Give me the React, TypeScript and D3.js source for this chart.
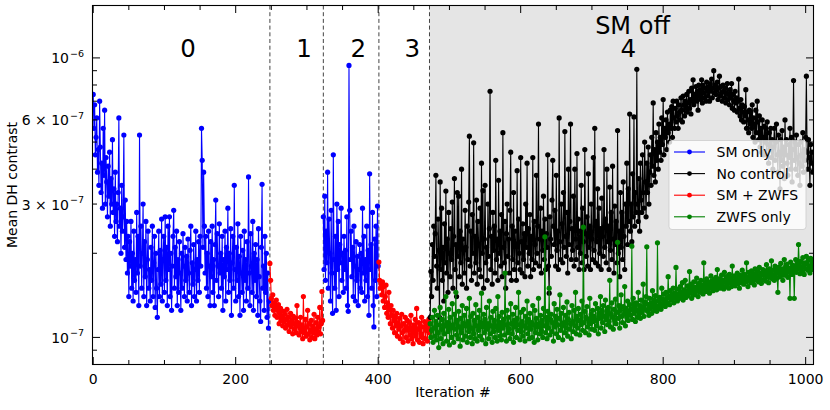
import React from 'react';
import * as d3 from 'd3';

// ---------- DATA (contrast values in units of 1e-9) ----------
const smOnlyAStart = 0;
const smOnlyA = [
  740, 560, 680, 450, 520, 610, 390, 470, 350, 700,
  480, 330, 420, 290, 560, 380, 650, 300, 440, 360,
  270, 410, 320, 460, 250, 370, 300, 510, 280, 340,
  230, 390, 260, 300, 220, 330, 610, 250, 290, 200,
  350, 240, 270, 530, 210, 310, 190, 260, 170, 230,
  140, 220, 180, 260, 150, 200, 135, 240, 160, 190,
  145, 280, 170, 230, 130, 530, 180, 250, 150, 200,
  300, 140, 220, 165, 260, 130, 190, 240, 150, 175,
  135, 210, 160, 250, 140, 185, 230, 128, 200, 150,
  118, 175, 240, 140, 205, 155, 265, 135, 190, 230,
  145, 270, 160, 210, 130, 250, 175, 270, 140, 200,
  125, 180, 230, 285, 150, 210, 165, 240, 130, 190,
  145, 220, 170, 125, 200, 150, 235, 180, 140, 210,
  160, 195, 135, 225, 170, 145, 205, 250, 130, 185,
  155, 215, 140, 175, 240, 135, 190, 160, 220, 145,
  230, 180, 560, 430, 210, 390, 250, 170, 230, 150,
  200, 140, 240, 180, 130, 220, 165, 250, 145, 190,
  130, 215, 310, 160, 235, 180, 140, 255, 170, 200,
  150, 230, 125, 190, 165, 240, 135, 210, 175, 290,
  145, 200, 160, 245, 120, 185, 230, 150, 350, 175,
  135, 210, 160, 255, 140, 195, 120, 230, 170, 145,
  205, 125, 240, 160, 190, 135, 220, 150, 375, 170,
  130, 235, 180, 145, 260, 125, 200, 160, 215, 140,
  190, 120, 245, 165, 135, 114, 210, 353, 150, 180,
  125, 230, 145, 200, 118, 170, 108, 135,
];

const smZwfsAStart = 248;
const smZwfsA = [
  184, 160, 138, 130, 142, 125, 133, 120, 128, 136,
  118, 125, 131, 112, 122, 127, 115, 119, 110, 124,
  114, 121, 108, 116, 126, 111, 118, 105, 113, 122,
  109, 115, 103, 119, 112, 107, 117, 104, 130, 110,
  113, 102, 108, 118, 105, 111, 99, 140, 107, 104,
  116, 101, 109, 125, 103, 112, 98, 106, 115, 100,
  110, 104, 121, 99, 107, 113, 102, 118, 105, 109,
  128, 103, 112, 146, 115,
];

const smOnlyBStart = 323;
const smOnlyB = [
  270, 175, 320, 160, 240, 185, 390, 150, 265, 200,
  135, 285, 170, 122, 450, 190, 150, 230, 125, 300,
  175, 260, 140, 215, 185, 290, 160, 200, 145, 230,
  175, 205, 150, 270, 130, 124, 940, 285, 190, 240,
  165, 210, 140, 250, 180, 135, 220, 160, 195, 130,
  175, 215, 150, 200, 145, 290, 170, 230, 135, 190,
  160, 250, 140, 205, 120, 385, 175, 215, 150, 280,
  130, 109, 225, 160, 250, 140, 295, 180,
];

const smZwfsBStart = 401;
const smZwfsB = [
  186, 160, 150, 155, 142, 158, 135, 152, 128, 140,
  154, 122, 133, 118, 145, 126, 112, 130, 120, 108,
  125, 115, 104, 119, 110, 122, 101, 113, 107, 117,
  99, 110, 121, 104, 96, 112, 106, 118, 100, 109,
  115, 97, 106, 113, 102, 120, 99, 108, 95, 111,
  104, 116, 101, 127, 98, 107, 113, 96, 110, 103,
  118, 100, 95, 109, 114, 99, 106, 112, 97, 108,
  116, 104,
];

const noControlStart = 473;
const noControl = [
  118, 172, 140, 215, 160, 250, 195, 235, 380, 180,
  150, 265, 205, 118, 360, 175, 290, 160, 210, 135,
  255, 185, 334, 170, 225, 145, 280, 200, 165, 245,
  190, 305, 150, 230, 370, 175, 215, 140, 330, 195,
  320, 165, 240, 185, 400, 155, 225, 205, 170, 285,
  210, 150, 250, 190, 305, 525, 180, 240, 160, 275,
  200, 497, 170, 230, 185, 310, 155, 260, 215, 175,
  290, 165, 420, 200, 335, 150, 225, 350, 185, 210,
  160, 300, 195, 245, 760, 175, 230, 155, 280, 205,
  250, 170, 430, 190, 225, 160, 365, 200, 240, 180,
  275, 165, 540, 210, 185, 260, 150, 235, 300, 195,
  225, 170, 285, 460, 160, 250, 190, 330, 175, 240,
  215, 160, 395, 185, 265, 200, 175, 440, 220, 170,
  255, 190, 235, 165, 300, 210, 420, 180, 245, 200,
  275, 165, 230, 190, 440, 175, 260, 215, 185, 380,
  200, 250, 580, 180, 225, 290, 170, 240, 205, 320,
  190, 265, 175, 235, 210, 450, 180, 144, 270, 225,
  195, 310, 430, 250, 215, 285, 180, 380, 205, 240,
  175, 610, 220, 190, 300, 255, 185, 330, 210, 545,
  230, 195, 280, 170, 400, 215, 260, 580, 190, 245,
  205, 320, 180, 400, 225, 190, 455, 210, 265, 175,
  240, 200, 350, 185, 290, 220, 175, 470, 235, 195,
  270, 180, 385, 210, 250, 175, 300, 225, 190, 440,
  205, 560, 185, 260, 220, 340, 180, 290, 200, 245,
  175, 315, 230, 195, 470, 210, 265, 185, 400, 220,
  250, 175, 345, 205, 280, 190, 410, 225, 170, 295,
  215, 260, 185, 550, 200, 240, 165, 330, 210, 280,
  190, 360, 230, 175, 300, 250, 420, 215, 340, 260,
  630, 240, 300, 220, 385, 270, 615, 250, 330, 280,
  910, 300, 260, 370, 240, 420, 310, 280, 450, 330,
  290, 500, 360, 270, 420, 330, 480, 300, 390, 450,
  350, 520, 410, 690, 380, 470, 360, 540, 430, 500,
  400, 580, 460, 520, 430, 610, 490, 710, 450, 560,
  520, 600, 470, 640, 540, 580, 500, 650, 560, 670,
  520, 700, 610, 560, 660, 590, 700, 620, 560, 680,
  640, 600, 720, 650, 590, 730, 680, 620, 700, 660,
  740, 640, 690, 760, 660, 710, 630, 780, 700, 835,
  680, 740, 720, 790, 700, 760, 650, 800, 730, 770,
  710, 835, 690, 800, 750, 720, 780, 700, 820, 760,
  730, 790, 700, 810, 760, 840, 720, 780, 900, 750,
  800, 740, 770, 820, 710, 780, 860, 730, 790, 750,
  700, 800, 760, 720, 780, 690, 750, 810, 710, 740,
  680, 770, 720, 810, 660, 740, 700, 650, 760, 690,
  720, 640, 700, 840, 660, 620, 710, 600, 680, 640,
  590, 670, 620, 770, 560, 640, 600, 540, 650, 580,
  640, 560, 680, 520, 610, 580, 500, 650, 540, 700,
  590, 510, 620, 480, 560, 460, 600, 520, 450, 570,
  500, 560, 450, 590, 490, 420, 540, 470, 560, 440,
  510, 400, 480, 560, 430, 500, 580, 450, 390, 530,
  460, 340, 510, 430, 550, 410, 480, 370, 600, 450,
  510, 420, 380, 490, 440, 560, 400, 520, 360, 470,
  830, 430, 500, 400, 530, 440, 380, 490, 420, 350,
  500, 450, 410, 540, 390, 470, 430, 520, 860, 460,
  400, 510, 440, 350, 490, 420, 460, 390,
];

const zwfsOnlyStart = 473;
const zwfsOnly = [
  112, 100, 106, 118, 96, 108, 125, 101, 114, 98,
  120, 104, 92, 111, 128, 99, 107, 116, 95, 122,
  103, 110, 140, 97, 113, 105, 126, 94, 118, 108,
  100, 132, 111, 96, 121, 107, 145, 102, 115, 99,
  124, 109, 93, 117, 104, 130, 98, 112, 120, 101,
  110, 127, 96, 114, 105, 138, 100, 119, 108, 95,
  122, 103, 115, 99, 131, 110, 97, 118, 106, 125,
  101, 113, 144, 98, 109, 121, 104, 116, 95, 128,
  107, 112, 99, 135, 103, 118, 110, 96, 124, 105,
  115, 100, 127, 109, 97, 140, 106, 119, 101, 113,
  98, 123, 108, 116, 102, 170, 111, 97, 125, 104,
  118, 107, 99, 132, 112, 103, 121, 96, 115, 109,
  128, 100, 117, 106, 145, 111, 98, 123, 105, 114,
  101, 126, 110, 97, 119, 108, 135, 103, 116, 99,
  122, 107, 113, 100, 130, 111, 96, 125, 104, 117,
  109, 98, 138, 112, 103, 120, 106, 115, 100, 127,
  110, 229, 104, 118, 99, 124, 108, 150, 102, 116,
  121, 105, 113, 97, 132, 109, 119, 103, 126, 111,
  100, 117, 142, 106, 122, 110, 98, 128, 113, 104,
  120, 108, 134, 101, 116, 123, 107, 112, 99, 130,
  114, 105, 125, 110, 145, 103, 119, 108, 127, 115,
  102, 121, 111, 135, 106, 248, 113, 124, 104, 118,
  129, 109, 116, 102, 138, 112, 121, 107, 125, 114,
  119, 106, 132, 115, 110, 127, 103, 122, 117, 140,
  108, 125, 113, 130, 119, 105, 136, 116, 124, 111,
  128, 114, 160, 109, 121, 133, 118, 107, 126, 115,
  137, 112, 123, 219, 117, 130, 108, 125, 142, 119,
  113, 129, 121, 152, 110, 127, 118, 135, 115, 124,
  131, 120, 126, 212, 116, 138, 122, 129, 114, 133,
  125, 118, 145, 121, 130, 117, 136, 123, 128, 155,
  119, 134, 126, 140, 211, 124, 131, 120, 138, 127,
  133, 122, 147, 129, 136, 125, 141, 130, 124, 218,
  135, 128, 139, 132, 126, 150, 137, 130, 143, 134,
  129, 145, 138, 133, 165, 140, 131, 147, 136, 142,
  137, 150, 133, 144, 139, 178, 141, 135, 149, 143,
  138, 152, 145, 140, 157, 136, 148, 143, 160, 139,
  146, 153, 141, 149, 172, 144, 155, 138, 150, 147,
  158, 142, 151, 146, 163, 149, 140, 156, 152, 145,
  160, 148, 154, 143, 185, 151, 157, 146, 162, 153,
  149, 158, 144, 155, 166, 150, 159, 147, 161, 156,
  152, 164, 148, 175, 157, 153, 162, 150, 158, 167,
  154, 160, 149, 171, 158, 152, 165, 155, 161, 150,
  168, 157, 163, 152, 180, 159, 155, 166, 153, 162,
  158, 170, 156, 161, 150, 167, 163, 157, 174, 160,
  155, 168, 162, 158, 185, 164, 152, 171, 160, 166,
  157, 173, 163, 159, 169, 154, 176, 165, 160, 172,
  166, 158, 178, 162, 170, 156, 168, 175, 161, 167,
  173, 159, 182, 165, 171, 157, 176, 164, 170, 188,
  162, 174, 166, 160, 180, 169, 175, 163, 145, 178,
  171, 165, 184, 168, 176, 160, 173, 190, 167, 179,
  170, 183, 164, 177, 172, 138, 186, 175, 168, 181,
  174, 138, 179, 190, 171, 184, 176, 215, 182, 169,
  187, 178, 172, 193, 180, 168, 185, 176, 195, 183,
  174, 189, 179, 170, 192, 181, 175, 186,
];

const phaseBounds = [248, 323, 401, 472];
const phaseLabels = ['0', '1', '2', '3', '4'];
const phaseLabelIter = [133, 296, 372, 448, 751];
const smOffLabel = 'SM off';
const smOffIter = 757;

const xMajorTicks = [0, 200, 400, 600, 800, 1000];
const xMinorTicks = [50, 100, 150, 250, 300, 350, 450, 500, 550, 650, 700, 750, 850, 900, 950];
const yMajorTicks = [1e-7, 1e-6];
const yMinorTicks = [9e-8, 2e-7, 3e-7, 4e-7, 5e-7, 6e-7, 7e-7, 8e-7, 9e-7];
const yTickLabels: [number, string, string][] = [
  [1e-6, '10', '−6'],
  [6e-7, '6 × 10', '−7'],
  [3e-7, '3 × 10', '−7'],
  [1e-7, '10', '−7'],
];

const legendItems = [
  { label: 'SM only', color: '#0000ff' },
  { label: 'No control', color: '#000000' },
  { label: 'SM + ZWFS', color: '#ff0000' },
  { label: 'ZWFS only', color: '#008000' },
];

// ---------- LAYOUT ----------
const W = 830;
const H = 410;
const L = 92.5, R = 813.5, T = 5.5, B = 364.5;
const FONT = '"DejaVu Sans", sans-serif';

const xScale = d3.scaleLinear().domain([-1, 1011]).range([L, R]);
const yScale = d3.scaleLog().domain([8.0e-8, 1.54e-6]).range([B, T]);
const UNIT = 1e-9;

function Series({ start, values, color }: { start: number; values: number[]; color: string }) {
  const line = d3
    .line<number>()
    .x((_, i) => xScale(start + i))
    .y((v) => yScale(v * UNIT));
  return (
    <g>
      <path d={line(values) || ''} fill="none" stroke={color} strokeWidth={1.1} strokeLinejoin="round" />
      {values.map((v, i) => (
        <circle key={i} cx={xScale(start + i)} cy={yScale(v * UNIT)} r={2.6} fill={color} />
      ))}
    </g>
  );
}

export default function App() {
  const majorLen = 7.5;
  const minorLen = 4.5;
  return (
    <svg
      width={W}
      height={H}
      style={{ position: 'absolute', left: 0, top: 0, background: '#fff' }}
      fontFamily={FONT}
    >
      <defs>
        <clipPath id="plotclip">
          <rect x={L} y={T} width={R - L} height={B - T} />
        </clipPath>
      </defs>
      <rect x={0} y={0} width={W} height={H} fill="#fff" />
      <rect x={xScale(phaseBounds[3])} y={T} width={R - xScale(phaseBounds[3])} height={B - T} fill="#e5e5e5" />
      {phaseBounds.map((b) => (
        <line key={b} x1={xScale(b)} x2={xScale(b)} y1={T} y2={B} stroke="#444" strokeWidth={1} strokeDasharray="4,2.7" />
      ))}
      <g clipPath="url(#plotclip)">
        <Series start={smOnlyAStart} values={smOnlyA} color="#0000ff" />
        <Series start={smZwfsAStart} values={smZwfsA} color="#ff0000" />
        <Series start={smOnlyBStart} values={smOnlyB} color="#0000ff" />
        <Series start={smZwfsBStart} values={smZwfsB} color="#ff0000" />
        <Series start={noControlStart} values={noControl} color="#000000" />
        <Series start={zwfsOnlyStart} values={zwfsOnly} color="#008000" />
      </g>
      {phaseLabels.map((p, i) => (
        <text key={p} x={xScale(phaseLabelIter[i])} y={57} fontSize={24.5} textAnchor="middle" fill="#000">
          {p}
        </text>
      ))}
      <text x={xScale(smOffIter)} y={33.5} fontSize={24} textAnchor="middle" fill="#000">
        {smOffLabel}
      </text>
      <g>
        <rect x={669} y={140.5} width={137} height={89} rx={3} fill="#fff" fillOpacity={0.8} stroke="#cccccc" strokeOpacity={0.8} />
        {legendItems.map((it, i) => {
          const y = 152 + i * 21.6;
          return (
            <g key={it.label}>
              <line x1={674} x2={705} y1={y} y2={y} stroke={it.color} strokeWidth={1.1} />
              <circle cx={689.5} cy={y} r={2.4} fill={it.color} />
              <text x={716.5} y={y + 5} fontSize={14} fill="#000">
                {it.label}
              </text>
            </g>
          );
        })}
      </g>
      {xMajorTicks.map((t) => (
        <g key={'xM' + t}>
          <line x1={xScale(t)} x2={xScale(t)} y1={B} y2={B - majorLen} stroke="#000" />
          <line x1={xScale(t)} x2={xScale(t)} y1={T} y2={T + majorLen} stroke="#000" />
          <text x={xScale(t)} y={384} fontSize={14} textAnchor="middle" fill="#000">
            {t}
          </text>
        </g>
      ))}
      {xMinorTicks.map((t) => (
        <g key={'xm' + t}>
          <line x1={xScale(t)} x2={xScale(t)} y1={B} y2={B - minorLen} stroke="#000" />
          <line x1={xScale(t)} x2={xScale(t)} y1={T} y2={T + minorLen} stroke="#000" />
        </g>
      ))}
      {yMajorTicks.map((t) => (
        <g key={'yM' + t}>
          <line x1={L} x2={L + majorLen} y1={yScale(t)} y2={yScale(t)} stroke="#000" />
          <line x1={R} x2={R - majorLen} y1={yScale(t)} y2={yScale(t)} stroke="#000" />
        </g>
      ))}
      {yMinorTicks.map((t) => (
        <g key={'ym' + t}>
          <line x1={L} x2={L + minorLen} y1={yScale(t)} y2={yScale(t)} stroke="#000" />
          <line x1={R} x2={R - minorLen} y1={yScale(t)} y2={yScale(t)} stroke="#000" />
        </g>
      ))}
      {yTickLabels.map(([v, base, exp]) => (
        <text key={'yl' + v} x={84} y={yScale(v) + 5.5} fontSize={14} textAnchor="end" fill="#000">
          {base}
          <tspan fontSize={9.5} dy={-6.5} dx={1}>
            {exp}
          </tspan>
        </text>
      ))}
      <rect x={L} y={T} width={R - L} height={B - T} fill="none" stroke="#000" strokeWidth={1.1} />
      <text x={(L + R) / 2} y={397} fontSize={14} textAnchor="middle" fill="#000">
        Iteration #
      </text>
      <text transform={`translate(17, ${(T + B) / 2}) rotate(-90)`} fontSize={14} textAnchor="middle" fill="#000">
        Mean DH contrast
      </text>
    </svg>
  );
}
